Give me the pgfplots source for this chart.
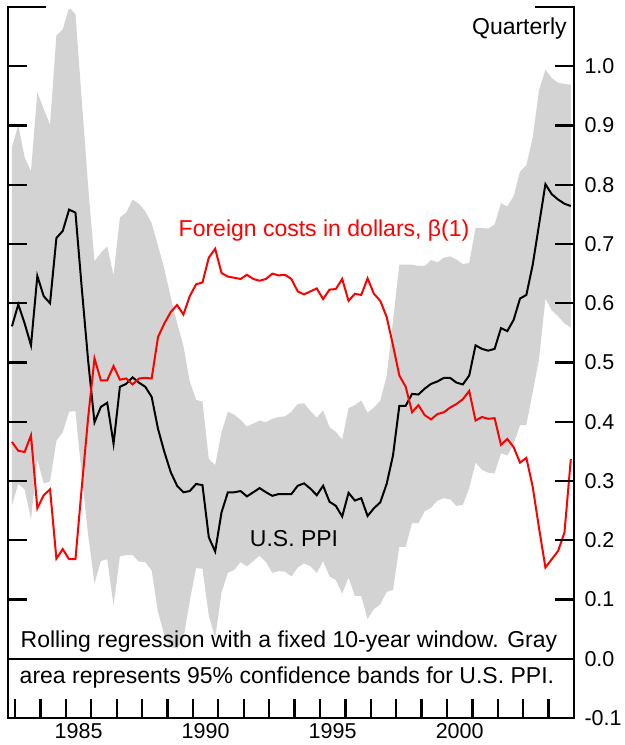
\documentclass[border=0pt]{standalone}
\usepackage{fontspec}
\setmainfont{Liberation Sans}
\usepackage{pgfplots}
\usepackage{pgfplotstable}
\pgfplotsset{compat=1.18}
\usepgfplotslibrary{fillbetween}
\usetikzlibrary{calc}
\definecolor{band}{RGB}{211,211,211}
\pgfplotstableread{
x black red upper lower
1982.875 0.561 0.366 0.863 0.259
1983.125 0.598 0.351 0.901 0.295
1983.375 0.566 0.349 0.846 0.286
1983.625 0.529 0.377 0.823 0.235
1983.875 0.646 0.254 0.956 0.336
1984.125 0.612 0.276 0.928 0.296
1984.375 0.600 0.286 0.901 0.299
1984.625 0.710 0.169 1.052 0.368
1984.875 0.722 0.185 1.062 0.382
1985.125 0.758 0.168 1.099 0.417
1985.375 0.753 0.168 1.088 0.418
1985.625 0.625 0.290 0.942 0.308
1985.875 0.503 0.407 0.797 0.209
1986.125 0.399 0.507 0.671 0.127
1986.375 0.425 0.470 0.685 0.165
1986.625 0.432 0.470 0.696 0.168
1986.875 0.363 0.494 0.647 0.090
1987.125 0.459 0.471 0.745 0.173
1987.375 0.464 0.473 0.753 0.175
1987.625 0.475 0.463 0.775 0.175
1987.875 0.466 0.473 0.768 0.164
1988.125 0.459 0.474 0.755 0.163
1988.375 0.442 0.473 0.735 0.149
1988.625 0.388 0.543 0.697 0.079
1988.875 0.349 0.566 0.658 0.040
1989.125 0.315 0.585 0.610 0.020
1989.375 0.292 0.597 0.567 0.017
1989.625 0.281 0.581 0.528 0.034
1989.875 0.283 0.612 0.468 0.098
1990.125 0.295 0.632 0.437 0.153
1990.375 0.293 0.635 0.434 0.152
1990.625 0.205 0.677 0.337 0.073
1990.875 0.181 0.692 0.327 0.035
1991.125 0.247 0.651 0.382 0.112
1991.375 0.281 0.645 0.417 0.145
1991.625 0.281 0.643 0.412 0.150
1991.875 0.283 0.641 0.403 0.163
1992.125 0.274 0.648 0.392 0.156
1992.375 0.281 0.641 0.397 0.165
1992.625 0.288 0.638 0.402 0.174
1992.875 0.281 0.641 0.399 0.163
1993.125 0.275 0.650 0.405 0.145
1993.375 0.278 0.647 0.408 0.148
1993.625 0.278 0.648 0.409 0.147
1993.875 0.278 0.641 0.417 0.139
1994.125 0.292 0.620 0.430 0.154
1994.375 0.296 0.615 0.431 0.161
1994.625 0.287 0.620 0.418 0.156
1994.875 0.276 0.625 0.407 0.145
1995.125 0.292 0.607 0.419 0.165
1995.375 0.265 0.623 0.391 0.139
1995.625 0.258 0.624 0.383 0.133
1995.875 0.240 0.641 0.370 0.110
1996.125 0.280 0.604 0.423 0.137
1996.375 0.267 0.616 0.428 0.106
1996.625 0.271 0.614 0.436 0.106
1996.875 0.241 0.642 0.415 0.067
1997.125 0.254 0.616 0.424 0.084
1997.375 0.264 0.604 0.436 0.092
1997.625 0.295 0.577 0.477 0.113
1997.875 0.343 0.529 0.570 0.116
1998.125 0.427 0.478 0.665 0.189
1998.375 0.427 0.459 0.665 0.189
1998.625 0.447 0.416 0.665 0.229
1998.875 0.446 0.428 0.663 0.229
1999.125 0.456 0.411 0.663 0.249
1999.375 0.464 0.404 0.673 0.255
1999.625 0.468 0.413 0.669 0.267
1999.875 0.474 0.416 0.677 0.271
2000.125 0.474 0.424 0.679 0.269
2000.375 0.466 0.430 0.674 0.258
2000.625 0.463 0.438 0.666 0.260
2000.875 0.478 0.452 0.668 0.288
2001.125 0.529 0.402 0.727 0.331
2001.375 0.523 0.408 0.727 0.319
2001.625 0.520 0.405 0.726 0.314
2001.875 0.523 0.406 0.733 0.313
2002.125 0.558 0.361 0.769 0.347
2002.375 0.553 0.371 0.763 0.343
2002.625 0.572 0.357 0.781 0.363
2002.875 0.608 0.331 0.822 0.394
2003.125 0.614 0.339 0.833 0.395
2003.375 0.665 0.290 0.880 0.450
2003.625 0.733 0.220 0.960 0.506
2003.875 0.801 0.154 0.994 0.608
2004.125 0.784 0.168 0.980 0.588
2004.375 0.775 0.182 0.972 0.578
2004.625 0.768 0.213 0.970 0.566
2004.875 0.764 0.337 0.969 0.559
}\data

\begin{document}
\begin{tikzpicture}
\begin{axis}[
  scale only axis, width=566pt, height=711pt,
  xmin=1982.72, xmax=2005, ymin=-0.1, ymax=1.1,
  clip mode=individual,
  axis line style={line width=2.6pt, black},
  xtick={1983,1984,1985,1986,1987,1988,1989,1990,1991,1992,1993,1994,1995,1996,1997,1998,1999,2000,2001,2002,2003,2004},
  xticklabels={,,1985,,,,,1990,,,,,1995,,,,,2000,,,,},
  xticklabel style={xshift=12.7pt, yshift=-2pt},
  xtick pos=left,
  ytick={-0.1,0,0.1,0.2,0.3,0.4,0.5,0.6,0.7,0.8,0.9,1.0},
  yticklabel pos=right,
  yticklabel style={xshift=7pt, /pgf/number format/.cd, fixed, fixed zerofill, precision=1, assume math mode=true},
  ticklabel style={font=\fontsize{21.5}{24}\selectfont},
  major tick length=0pt,
  font=\fontsize{23}{27}\selectfont,
]
\addplot[name path=up, draw=none] table[x=x, y=upper] {\data};
\addplot[name path=lo, draw=none] table[x=x, y=lower] {\data};
\addplot[band, draw=none] fill between[of=up and lo];
\addplot[black, line width=2pt] table[x=x, y=black] {\data};
\addplot[red, line width=2pt] table[x=x, y=red] {\data};
\draw[line width=2.4pt] (axis cs:1982.72,0) -- (axis cs:2005,0);
\pgfplotsinvokeforeach{0.1,0.2,0.3,0.4,0.5,0.6,0.7,0.8,0.9,1.0}{
  \draw[line width=2.3pt] (axis cs:1982.72,#1) -- ([xshift=19pt]axis cs:1982.72,#1);
  \draw[line width=2.3pt] (axis cs:2005,#1) -- ([xshift=-19pt]axis cs:2005,#1);
}
\node[text=red, anchor=base] at (axis cs:1995.16,0.712) {Foreign costs in dollars, β(1)};
\node[anchor=base] at (axis cs:1993.98,0.189) {U.S. PPI};
\node[anchor=base east, inner sep=0pt] at (axis cs:2004.72,1.053) {Quarterly};
\node[anchor=base, inner sep=0pt] at (axis cs:1993.78,0.019) {Rolling regression with a fixed 10-year window. Gray};
\node[anchor=base, inner sep=0pt] at (axis cs:1993.7,-0.041) {area represents 95\% confidence bands for U.S. PPI.};
\end{axis}
\foreach \k in {0,...,21}{
  \draw[line width=2.3pt, black] ($(current axis.south west)+(7.11pt+\k*25.404pt,0pt)$) -- ++(0pt,19pt);
}
\draw[white, line width=3.6pt] ($(current axis.north west)+(38pt,0)$) -- ($(current axis.north east)+(-39pt,0)$);
\pgfresetboundingbox
\path ($(current axis.south west)+(-8pt,-27pt)$) rectangle ($(current axis.north east)+(51pt,7pt)$);
\end{tikzpicture}
\end{document}
